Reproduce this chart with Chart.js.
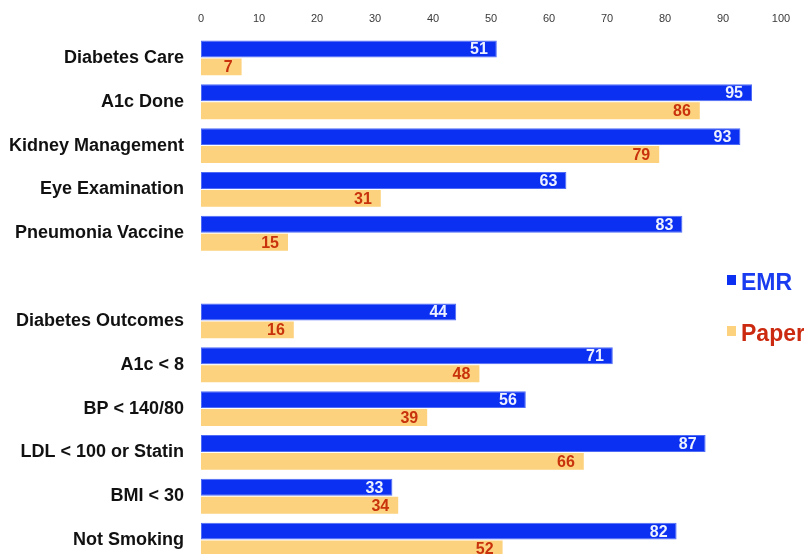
<!DOCTYPE html>
<html>
<head>
<meta charset="utf-8">
<script src="https://cdn.jsdelivr.net/npm/chart.js@4/dist/chart.umd.min.js"></script>
<style>
  html, body { margin: 0; padding: 0; background: #ffffff; overflow: hidden; }
  canvas { display: block; }
</style>
</head>
<body>
<canvas id="c" width="804" height="554"></canvas>
<script>
// Quality measures, percentage of patients meeting each measure
const categories = [
  'Diabetes Care', 'A1c Done', 'Kidney Management', 'Eye Examination', 'Pneumonia Vaccine',
  '',
  'Diabetes Outcomes', 'A1c < 8', 'BP < 140/80', 'LDL < 100 or Statin', 'BMI < 30', 'Not Smoking'
];
const emrValues   = [51, 95, 93, 63, 83, null, 44, 71, 56, 87, 33, 82];
const paperValues = [ 7, 86, 79, 31, 15, null, 16, 48, 39, 66, 34, 52];
const xTicks = [0, 10, 20, 30, 40, 50, 60, 70, 80, 90, 100];

const EMR_BLUE = '#0b30f2';
const PAPER_ORANGE = '#fdd27e';
const FONT = '"Liberation Sans", Arial, sans-serif';

// Let the plot run a little past the lower edge of the canvas so the last row is cut
const overflowBottom = {
  id: 'overflowBottom',
  afterLayout(chart) {
    const extra = 8;
    const y = chart.scales.y;
    chart.chartArea.bottom += extra;
    chart.chartArea.height += extra;
    y.bottom += extra;
    y.height += extra;
    y.configure();
  }
};

// Value labels drawn inside the end of each bar
const valueLabels = {
  id: 'valueLabels',
  afterDatasetsDraw(chart) {
    const ctx = chart.ctx;
    ctx.save();
    ctx.font = 'bold 16px ' + FONT;
    ctx.textAlign = 'right';
    ctx.textBaseline = 'middle';
    chart.data.datasets.forEach((ds, di) => {
      const meta = chart.getDatasetMeta(di);
      meta.data.forEach((bar, i) => {
        const v = ds.data[i];
        if (v === null || v === undefined) return;
        ctx.fillStyle = ds.labelColor;
        ctx.fillText(String(v), bar.x - 9, bar.y + 1);
      });
    });
    ctx.restore();
  }
};

// Series key at the right side of the plot
const sideLegend = {
  id: 'sideLegend',
  afterDraw(chart) {
    const ctx = chart.ctx;
    const area = chart.chartArea;
    ctx.save();
    ctx.font = 'bold 23px ' + FONT;
    ctx.textBaseline = 'middle';
    ctx.textAlign = 'left';
    const x0 = area.right - 54;
    const rows = [area.top + 247, area.top + 298];
    chart.data.datasets.forEach((ds, di) => {
      const y = rows[di];
      ctx.fillStyle = ds.backgroundColor;
      ctx.fillRect(x0, y - 8, 9, 10);
      ctx.fillStyle = ds.legendColor;
      ctx.fillText(ds.label, x0 + 14, y + 1);
    });
    ctx.restore();
  }
};

new Chart(document.getElementById('c'), {
  type: 'bar',
  data: {
    labels: categories,
    datasets: [
      {
        label: 'EMR',
        data: emrValues,
        backgroundColor: EMR_BLUE,
        borderColor: '#4f6cf6',
        borderWidth: 1,
        borderSkipped: false,
        labelColor: '#eef2ff',
        legendColor: '#1a3cf0',
        barPercentage: 0.94,
        categoryPercentage: 0.82
      },
      {
        label: 'Paper',
        data: paperValues,
        backgroundColor: PAPER_ORANGE,
        borderWidth: 0,
        labelColor: '#c8320c',
        legendColor: '#cc2a10',
        barPercentage: 0.94,
        categoryPercentage: 0.82
      }
    ]
  },
  options: {
    indexAxis: 'y',
    responsive: false,
    animation: false,
    layout: { padding: { left: 0, right: 23, top: 0, bottom: 0 } },
    plugins: {
      legend: { display: false },
      tooltip: { enabled: false }
    },
    scales: {
      x: {
        position: 'top',
        min: 0,
        max: 100,
        afterFit(scale) { scale.height = 36; },
        afterBuildTicks(scale) { scale.ticks = xTicks.map(v => ({ value: v })); },
        grid: { display: false, drawTicks: false },
        border: { display: false },
        ticks: {
          padding: 10,
          color: '#3a3a3a',
          font: { family: FONT, size: 11 }
        }
      },
      y: {
        afterFit(scale) {
          scale.width = 201;
          scale.paddingTop = 0;
          scale.paddingBottom = 0;
        },
        grid: { display: false, drawTicks: false },
        border: { display: false },
        ticks: {
          padding: 17,
          color: '#111111',
          font: { family: FONT, size: 18, weight: 'bold' }
        }
      }
    }
  },
  plugins: [overflowBottom, valueLabels, sideLegend]
});
</script>
</body>
</html>
